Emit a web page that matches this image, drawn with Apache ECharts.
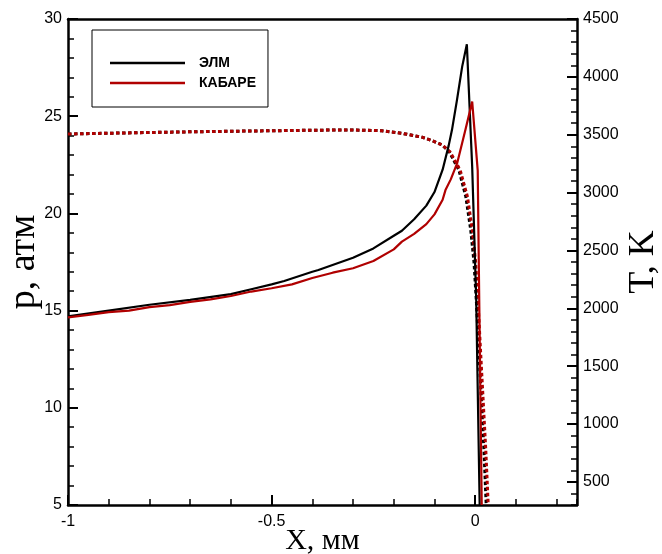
<!DOCTYPE html>
<html>
<head>
<meta charset="utf-8">
<script src="https://cdn.jsdelivr.net/npm/echarts@6/dist/echarts.min.js"></script>
<style>
html,body{margin:0;padding:0;background:#fff;}
#chart{width:662px;height:554px;}
</style>
</head>
<body>
<div id="chart"></div>
<script>
// ---- data ----
const seriesNames = ['ЭЛМ', 'КАБАРЕ'];
const xTicks = [-1, -0.5, 0];
const pTicks = [5, 10, 15, 20, 25, 30];
const tTicks = [500, 1000, 1500, 2000, 2500, 3000, 3500, 4000, 4500];

// pressure, ЭЛМ
const xElmP = [-1, -0.9, -0.8, -0.7, -0.6, -0.55, -0.5, -0.469, -0.4, -0.385, -0.3, -0.25, -0.2, -0.18, -0.15, -0.12, -0.1, -0.08, -0.065, -0.057, -0.045, -0.032, -0.0205, -0.0074, 0.0025, 0.011];
const pElm  = [14.7, 15.0, 15.3, 15.55, 15.85, 16.1, 16.35, 16.52, 17.0, 17.09, 17.72, 18.2, 18.85, 19.11, 19.7, 20.4, 21.1, 22.25, 23.5, 24.3, 25.8, 27.55, 28.7, 22.4, 15.55, 5.0];

// pressure, КАБАРЕ
const xKabP = [-1, -0.95, -0.9, -0.85, -0.8, -0.75, -0.7, -0.65, -0.6, -0.55, -0.5, -0.45, -0.4, -0.35, -0.3, -0.25, -0.2, -0.18, -0.15, -0.12, -0.1, -0.08, -0.073, -0.06, -0.044, -0.024, -0.0074, 0.0062, 0.0099, 0.016];
const pKab  = [14.65, 14.78, 14.92, 15.0, 15.18, 15.28, 15.45, 15.58, 15.75, 15.98, 16.15, 16.35, 16.68, 16.95, 17.18, 17.55, 18.15, 18.55, 18.95, 19.45, 19.95, 20.7, 21.2, 21.75, 22.6, 24.3, 25.75, 22.2, 15.55, 5.0];

// temperature, ЭЛМ
const xElmT = [-1, -0.9, -0.8, -0.7, -0.6, -0.5, -0.4, -0.3, -0.23, -0.18, -0.13, -0.106, -0.081, -0.064, -0.04, -0.023, -0.011, -0.003, 0.003, 0.009, 0.0215, 0.027];
const tElm  = [3506, 3513, 3519, 3525, 3530, 3534, 3539, 3541, 3535, 3512, 3478, 3449, 3411, 3353, 3195, 2964, 2677, 2400, 2050, 1640, 775, 300];

// temperature, КАБАРЕ
const xKabT = [-1, -0.9, -0.8, -0.7, -0.6, -0.5, -0.4, -0.3, -0.23, -0.18, -0.13, -0.106, -0.081, -0.062, -0.037, -0.019, -0.007, 0.001, 0.007, 0.013, 0.026, 0.032];
const tKab  = [3506, 3513, 3519, 3525, 3530, 3534, 3539, 3541, 3535, 3512, 3478, 3449, 3411, 3353, 3195, 2964, 2677, 2400, 2050, 1640, 775, 300];

const zip = (xs, ys) => xs.map((x, i) => [x, ys[i]]);

const BLACK = '#000000';
const RED = '#b00000';
const sans = 'Liberation Sans';
const serif = 'Liberation Serif';
const lineW = 2.5;

const chart = echarts.init(document.getElementById('chart'), null, {renderer: 'canvas'});

const option = {
  animation: false,
  backgroundColor: '#ffffff',
  grid: {left: 68, right: 85, top: 19, bottom: 49, containLabel: false, outerBoundsMode: 'none'},
  legend: {
    data: seriesNames.map(n => ({name: n, icon: 'rect'})),
    orient: 'vertical',
    left: 92, top: 30,
    itemWidth: 75, itemHeight: 2.5, itemGap: 4,
    padding: [25, 12, 16, 18],
    borderColor: '#000', borderWidth: 1,
    backgroundColor: '#fff',
    textStyle: {fontFamily: sans, fontWeight: 'bold', fontSize: 14, color: '#000', padding: [0, 0, 0, 9], lineHeight: 16},
    selectedMode: false
  },
  xAxis: [
    {
      type: 'value', position: 'bottom', min: -1, max: 0.25, interval: 0.1,
      name: 'X, мм', nameLocation: 'middle', nameGap: 21, nameMoveOverlap: false,
      nameTextStyle: {fontFamily: serif, fontSize: 30, color: '#000'},
      axisLine: {show: true, onZero: false, lineStyle: {color: '#000', width: lineW}},
      axisTick: {show: true, inside: true, length: 6, lineStyle: {color: '#000', width: 1.5}},
      axisLabel: {customValues: xTicks, fontFamily: sans, fontSize: 16, color: '#000', margin: 9},
      splitLine: {show: false}
    },
    {
      type: 'value', position: 'bottom', min: -1, max: 0.25,
      axisLine: {show: false, onZero: false},
      axisTick: {show: true, inside: true, length: 10, customValues: xTicks, lineStyle: {color: '#000', width: 2}},
      axisLabel: {show: false},
      splitLine: {show: false}
    },
    {
      type: 'value', position: 'top', min: -1, max: 0.25,
      axisLine: {show: true, onZero: false, lineStyle: {color: '#000', width: lineW}},
      axisTick: {show: false}, axisLabel: {show: false}, splitLine: {show: false}
    }
  ],
  yAxis: [
    {
      type: 'value', position: 'left', min: 5, max: 30, interval: 5,
      name: 'p, атм', nameLocation: 'middle', nameGap: 25, nameRotate: 90, nameMoveOverlap: false,
      nameTextStyle: {fontFamily: serif, fontSize: 38, color: '#000'},
      axisLine: {show: true, onZero: false, lineStyle: {color: '#000', width: lineW}},
      axisTick: {show: true, inside: true, length: 10, lineStyle: {color: '#000', width: 2}},
      minorTick: {show: true, splitNumber: 5, length: 6, lineStyle: {color: '#000', width: 1.5}},
      axisLabel: {fontFamily: sans, fontSize: 16, color: '#000', margin: 6,
                  formatter: v => pTicks.includes(v) ? String(v) : ''},
      splitLine: {show: false}
    },
    {
      type: 'value', position: 'right', min: 300, max: 4500, interval: 100,
      name: 'T, K', nameLocation: 'middle', nameGap: 49, nameRotate: 90, nameMoveOverlap: false,
      nameTextStyle: {fontFamily: serif, fontSize: 36, color: '#000'},
      axisLine: {show: true, onZero: false, lineStyle: {color: '#000', width: lineW}},
      axisTick: {show: true, inside: true, length: 6, lineStyle: {color: '#000', width: 1.5}},
      axisLabel: {customValues: tTicks, fontFamily: sans, fontSize: 16, color: '#000', margin: 6,
                  formatter: v => String(v)},
      splitLine: {show: false}
    },
    {
      type: 'value', position: 'right', min: 300, max: 4500,
      axisLine: {show: false, onZero: false},
      axisTick: {show: true, inside: true, length: 10, customValues: tTicks, lineStyle: {color: '#000', width: 2}},
      axisLabel: {show: false},
      splitLine: {show: false}
    }
  ],
  series: [
    {
      name: 'ЭЛМ T', type: 'line', xAxisIndex: 0, yAxisIndex: 1, data: zip(xElmT, tElm),
      symbol: 'none', smooth: false, clip: true,
      lineStyle: {color: BLACK, width: 3, type: [3.5, 2.5], cap: 'butt'}, z: 2
    },
    {
      name: 'КАБАРЕ T', type: 'line', xAxisIndex: 0, yAxisIndex: 1, data: zip(xKabT, tKab),
      symbol: 'none', smooth: false, clip: true,
      lineStyle: {color: RED, width: 3, type: [3.5, 2.5], cap: 'butt'}, z: 3
    },
    {
      name: 'ЭЛМ', type: 'line', xAxisIndex: 0, yAxisIndex: 0, data: zip(xElmP, pElm),
      symbol: 'none', smooth: false, clip: true, color: BLACK, itemStyle: {color: BLACK},
      lineStyle: {color: BLACK, width: 2.2}, z: 4
    },
    {
      name: 'КАБАРЕ', type: 'line', xAxisIndex: 0, yAxisIndex: 0, data: zip(xKabP, pKab),
      symbol: 'none', smooth: false, clip: true, color: RED, itemStyle: {color: RED},
      lineStyle: {color: RED, width: 2.2}, z: 5
    }
  ]
};
chart.setOption(option);
</script>
</body>
</html>
